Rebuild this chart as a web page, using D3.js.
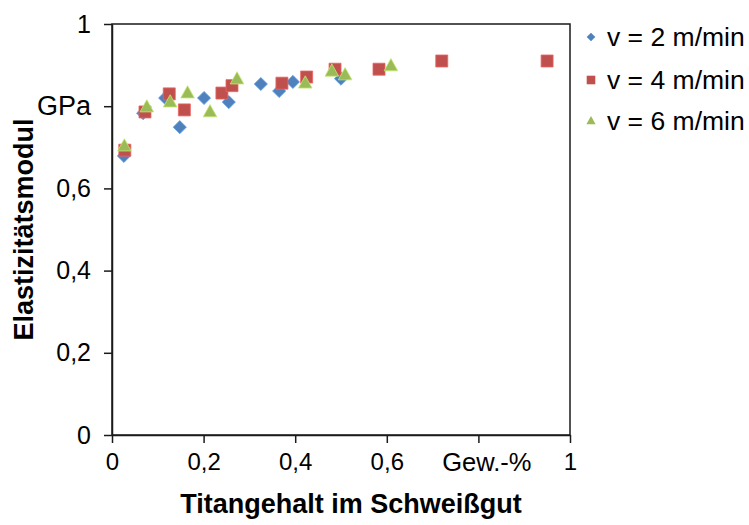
<!DOCTYPE html>
<html>
<head>
<meta charset="utf-8">
<script src="https://cdn.jsdelivr.net/npm/d3@7"></script>
<style>
  html, body { margin: 0; padding: 0; background: #fff; }
  svg { display: block; font-family: "Liberation Sans", Arial, sans-serif; }
</style>
</head>
<body>
<svg id="chart" width="749" height="525"></svg>
<script>
// Titangehalt (Gew.-%) und Elastizitätsmodul (GPa) je Drahtvorschub
const seriesNames = ["v = 2 m/min", "v = 4 m/min", "v = 6 m/min"];
const seriesColors = ["#4F81BD", "#C0504D", "#9BBB59"];
const seriesShapes = ["diamond", "square", "triangle"];

const ti2 = [0.026, 0.068, 0.116, 0.148, 0.201, 0.255, 0.325, 0.365, 0.395, 0.500];
const e2  = [0.679, 0.783, 0.820, 0.749, 0.820, 0.810, 0.854, 0.837, 0.859, 0.867];

const ti4 = [0.028, 0.072, 0.125, 0.158, 0.240, 0.262, 0.371, 0.425, 0.487, 0.583, 0.720, 0.950];
const e4  = [0.693, 0.786, 0.830, 0.791, 0.832, 0.850, 0.856, 0.871, 0.890, 0.890, 0.910, 0.910];

const ti6 = [0.027, 0.076, 0.127, 0.165, 0.214, 0.273, 0.422, 0.480, 0.509, 0.609];
const e6  = [0.703, 0.798, 0.810, 0.832, 0.786, 0.866, 0.856, 0.885, 0.876, 0.898];

const xTicks = [0, 0.2, 0.4, 0.6, 0.8, 1];
const xTickLabels = ["0", "0,2", "0,4", "0,6", "Gew.-%", "1"];
const yTicks = [0, 0.2, 0.4, 0.6, 0.8, 1];
const yTickLabels = ["0", "0,2", "0,4", "0,6", "GPa", "1"];

const xTitle = "Titangehalt im Schweißgut";
const yTitle = "Elastizitätsmodul";

const series = [
  { x: ti2, y: e2 },
  { x: ti4, y: e4 },
  { x: ti6, y: e6 }
];

const svg = d3.select("#chart");
const plot = { left: 112, right: 570, top: 24, bottom: 435 };

const x = d3.scaleLinear().domain([0, 1]).range([plot.left, plot.right]);
const y = d3.scaleLinear().domain([0, 1]).range([plot.bottom, plot.top]);

// marker outlines, centred on the origin
function markerPath(shape, r) {
  if (shape === "diamond") return `M0,${-r}L${r},0L0,${r}L${-r},0Z`;
  if (shape === "square") return `M${-r},${-r}H${r}V${r}H${-r}Z`;
  const h = r * 1.8;
  return `M0,${-h * 0.6}L${r},${h * 0.4}L${-r},${h * 0.4}Z`;
}
const markerSize = { diamond: 6.6, square: 6, triangle: 6.8 };

// plot frame
svg.append("rect")
  .attr("x", plot.left).attr("y", plot.top)
  .attr("width", plot.right - plot.left).attr("height", plot.bottom - plot.top)
  .attr("fill", "none").attr("stroke", "#1a1a1a").attr("stroke-width", 1.5);

// axes
const xAxis = d3.axisBottom(x).tickValues(xTicks)
  .tickFormat((d, i) => xTickLabels[i]).tickSize(8).tickSizeOuter(0).tickPadding(10);
const yAxis = d3.axisLeft(y).tickValues(yTicks)
  .tickFormat((d, i) => yTickLabels[i]).tickSize(8).tickSizeOuter(0).tickPadding(13);

const gx = svg.append("g").attr("transform", `translate(0,${plot.bottom})`).call(xAxis);
const gy = svg.append("g").attr("transform", `translate(${plot.left},0)`).call(yAxis);

[gx, gy].forEach(g => {
  g.select(".domain").attr("stroke", "#1a1a1a").attr("stroke-width", 1.5);
  g.selectAll(".tick line").attr("stroke", "#1a1a1a").attr("stroke-width", 1.5);
  g.selectAll(".tick text").attr("fill", "#000")
    .style("font-size", "24px").style("font-family", "'Liberation Sans', Arial, sans-serif");
});
gy.selectAll(".tick text").style("font-size", "25px");
gx.selectAll(".tick text").filter((d, i) => i === 4).attr("dx", 8).style("font-size", "25.5px");
gy.selectAll(".tick text").filter((d, i) => i === 4).style("font-size", "27px");

// axis titles
svg.append("text")
  .attr("x", 351).attr("y", 513)
  .attr("text-anchor", "middle")
  .style("font-size", "27px").style("font-weight", "bold")
  .text(xTitle);

svg.append("text")
  .attr("transform", `translate(33,${(plot.top + plot.bottom) / 2}) rotate(-90)`)
  .attr("text-anchor", "middle")
  .style("font-size", "27px").style("font-weight", "bold")
  .text(yTitle);

// data markers
series.forEach((s, k) => {
  const pts = s.x.map((v, i) => [v, s.y[i]]);
  svg.append("g").selectAll("path")
    .data(pts)
    .join("path")
    .attr("d", markerPath(seriesShapes[k], markerSize[seriesShapes[k]]))
    .attr("transform", d => `translate(${x(d[0])},${y(d[1])})`)
    .attr("fill", seriesColors[k])
    .attr("stroke", d3.color(seriesColors[k]).brighter(0.6))
    .attr("stroke-width", 0.8);
});

// legend
const legend = svg.append("g").attr("transform", "translate(591,0)");
const legendRows = [37, 80, 121];
seriesNames.forEach((name, k) => {
  const row = legend.append("g").attr("transform", `translate(0,${legendRows[k]})`);
  row.append("path")
    .attr("d", markerPath(seriesShapes[k], seriesShapes[k] === "triangle" ? 4.6 : 4.3))
    .attr("fill", seriesColors[k]);
  row.append("text")
    .attr("x", 16).attr("y", 9)
    .style("font-size", "26.5px")
    .text(name);
});
</script>
</body>
</html>
